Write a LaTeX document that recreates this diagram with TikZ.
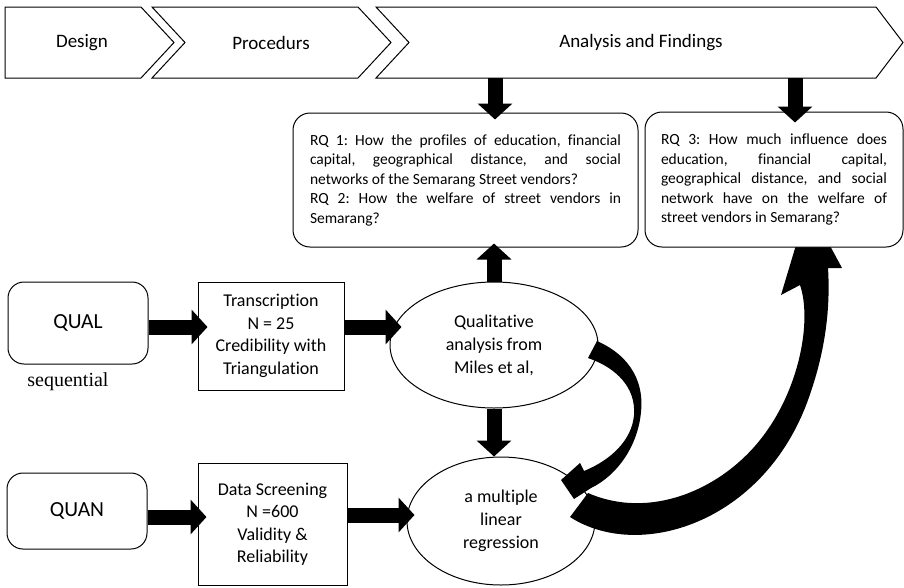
\documentclass[tikz,border=0pt]{standalone}
\usepackage{fontspec}
\setmainfont{Carlito}[Ligatures=NoCommon]
\newfontfamily\seqfont{Liberation Serif}
\usetikzlibrary{arrows.meta,shapes.geometric}
\frenchspacing

\tikzset{
  stage/.style={font=\fontsize{19}{23}\selectfont},
  strand/.style={draw, fill=white, rounded corners=16pt, inner sep=0pt, font=\fontsize{21.5}{26}\selectfont},
  databox/.style={draw, fill=white, align=center, inner sep=0pt, font=\fontsize{18}{22.5}\selectfont},
  analysis/.style={draw, fill=white, ellipse, inner sep=0pt, align=center, font=\fontsize{18}{23}\selectfont},
  rqbox/.style={draw, fill=white, rounded corners=17pt, align=justify, font=\fontsize{15.5}{19.5}\selectfont},
  blockarrow/.style={line width=15pt, -{Triangle[length=16pt,width=34pt]}},
}

\begin{document}
\begin{tikzpicture}[x=1pt,y=-1pt,line width=1pt]
  \useasboundingbox (0,0) rectangle (904,587);
  % stages
  \draw (5,7) -- (141,7) -- (174,42.5) -- (141,78) -- (5,78) -- cycle;
  \draw (152,7) -- (358,7) -- (391,42.5) -- (358,78) -- (152,78) -- (185,42.5) -- cycle;
  \draw (376,7) -- (876,7) -- (903,42.5) -- (876,78) -- (376,78) -- (409,42.5) -- cycle;
  \node[stage] (design) at (82,43) {Design};
  \node[stage] (procedurs) at (271,43) {Procedurs};
  \node[stage] (findings) at (641,43) {Analysis and Findings};
  \coordinate (drop1) at (495,78);
  \coordinate (drop2) at (795,78);

  % strands
  \node[strand, minimum width=140pt, minimum height=82pt] (qual) at (78,323) {QUAL};
  \node[font=\seqfont\fontsize{20}{24}\selectfont] (seq) at (68,382) {sequential};
  \node[databox, minimum width=146pt, minimum height=108pt] (trans) at (271,336)
    {Transcription\\N = 25\\Credibility with\\Triangulation};
  \node[analysis, minimum width=208pt, minimum height=126pt] (qualell) at (494,345)
    {Qualitative\\analysis from\\Miles et al,};
  \node[strand, minimum width=140pt, minimum height=76pt] (quan) at (77,511) {QUAN};
  \node[databox, minimum width=149pt, minimum height=122pt] (data) at (272.5,524)
    {Data Screening\\N =600\\Validity \&\\Reliability};
  \node[analysis, minimum width=188pt, minimum height=128pt] (regell) at (501,521)
    {a multiple\\linear\\regression};

  % curved arrows
  \fill (597,341) .. controls (633,357) and (644,385) .. (641,412)
    .. controls (638,445) and (618,475) .. (591,488)
    -- (574,499) -- (561,480) -- (580,463) -- (584,471)
    .. controls (611,460) and (632,440) .. (634,415)
    .. controls (636,388) and (617,368) .. (588,358) -- cycle;
  \fill (588,493) -- (570,517) .. controls (640,562) and (764,522) .. (808,400)
    .. controls (828,345) and (830,300) .. (828,268)
    -- (842,268) -- (808,205) -- (781,295) -- (800,285)
    .. controls (812,320) and (800,390) .. (760,440)
    .. controls (720,490) and (650,520) .. cycle;

  % research questions
  \node[rqbox, text width=311pt, inner xsep=17pt, minimum height=134pt] (rq1) at (465.5,180)
    {RQ 1: How the profiles of education, financial\linebreak capital, geographical distance, and social\linebreak networks of the Semarang Street vendors?\par
     RQ 2: How the welfare of street vendors in\linebreak Semarang?};
  \node[rqbox, text width=226pt, inner xsep=16pt, minimum height=135pt] (rq3) at (774,179.5)
    {RQ 3: How much influence does\linebreak education, financial capital,\linebreak geographical distance, and social\linebreak network have on the welfare of\linebreak street vendors in Semarang?};

  % block arrows
  \draw[blockarrow, shorten >=-7pt] (drop1) -- (drop1 |- rq1.north);
  \draw[blockarrow, shorten >=-11pt] (drop2) -- (drop2 |- rq3.north);
  \draw[blockarrow, shorten >=-4pt] (qualell.north) -- (qualell.north |- rq1.south);
  \draw[blockarrow] (qualell.south) -- (qualell.south |- regell.north);
  \draw[blockarrow, shorten >=-10pt] (qual.east |- 0,327) -- (trans.west |- 0,327);
  \draw[blockarrow, shorten >=-12pt] (trans.east |- 0,327) -- (qualell.west |- 0,327);
  \draw[blockarrow, shorten >=-9pt] (quan.east |- 0,517) -- (data.west |- 0,517);
  \draw[blockarrow, shorten >=-8pt] (data.east |- 0,515) -- (regell.west |- 0,515);
\end{tikzpicture}
\end{document}
